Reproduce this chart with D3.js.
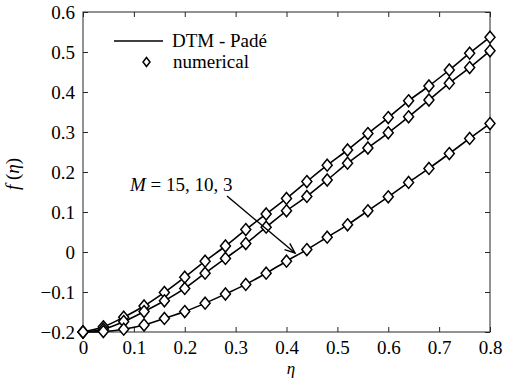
<!DOCTYPE html>
<html>
<head>
<meta charset="utf-8">
<script src="https://cdn.jsdelivr.net/npm/d3@7"></script>
</head>
<body style="margin:0;background:#fff">
<svg id="fig" width="515" height="378" style="display:block"></svg>
<script>
// Similarity variable samples
const eta = [0, 0.04, 0.08, 0.12, 0.16, 0.2, 0.24, 0.28, 0.32, 0.36, 0.4,
             0.44, 0.48, 0.52, 0.56, 0.6, 0.64, 0.68, 0.72, 0.76, 0.8];
// f(eta) for M = 15, 10, 3
const fM15 = [-0.2, -0.187, -0.163, -0.135, -0.101, -0.063, -0.023, 0.015, 0.056, 0.095, 0.134,
              0.176, 0.217, 0.255, 0.296, 0.336, 0.378, 0.415, 0.455, 0.497, 0.537];
const fM10 = [-0.2, -0.193, -0.174, -0.149, -0.122, -0.091, -0.053, -0.016, 0.021, 0.062, 0.103,
              0.139, 0.180, 0.222, 0.260, 0.298, 0.338, 0.380, 0.422, 0.461, 0.503];
const fM3  = [-0.2, -0.199, -0.193, -0.1825, -0.166, -0.149, -0.128, -0.105, -0.081, -0.053, -0.023,
              0.006, 0.037, 0.068, 0.103, 0.138, 0.174, 0.209, 0.246, 0.284, 0.321];
const seriesList = [fM15, fM10, fM3];
const xTicks = [0, 0.1, 0.2, 0.3, 0.4, 0.5, 0.6, 0.7, 0.8];
const yTicks = [-0.2, -0.1, 0, 0.1, 0.2, 0.3, 0.4, 0.5, 0.6];

const FONT = "'Liberation Serif', Tinos, 'Times New Roman', serif";
const svg = d3.select("#fig");
const margin = {left: 83, right: 25, top: 12, bottom: 46};
const W = 515, H = 378;
const x = d3.scaleLinear().domain([0, 0.8]).range([margin.left, W - margin.right]);
const y = d3.scaleLinear().domain([-0.2, 0.6]).range([H - margin.bottom, margin.top]);

const fmt = v => {
  if (Math.abs(v) < 1e-9) return "0";
  const s = d3.format(".1f")(Math.abs(v));
  return (v < 0 ? "\u2212" : "") + s;
};

const tickLen = 5;
const axisColor = "#262626";

// Box
svg.append("rect")
  .attr("x", x(0)).attr("y", y(0.6))
  .attr("width", x(0.8) - x(0)).attr("height", y(-0.2) - y(0.6))
  .attr("fill", "none").attr("stroke", axisColor).attr("stroke-width", 1);

// Axes with inward ticks on all four sides
const gx = svg.append("g").attr("transform", `translate(0,${y(-0.2)})`)
  .call(d3.axisBottom(x).tickValues(xTicks).tickSize(-tickLen).tickPadding(9).tickFormat(fmt));
const gxTop = svg.append("g").attr("transform", `translate(0,${y(0.6)})`)
  .call(d3.axisTop(x).tickValues(xTicks).tickSize(-tickLen).tickFormat(""));
const gy = svg.append("g").attr("transform", `translate(${x(0)},0)`)
  .call(d3.axisLeft(y).tickValues(yTicks).tickSize(-tickLen).tickPadding(8).tickFormat(fmt));
const gyRight = svg.append("g").attr("transform", `translate(${x(0.8)},0)`)
  .call(d3.axisRight(y).tickValues(yTicks).tickSize(-tickLen).tickFormat(""));

[gx, gxTop, gy, gyRight].forEach(g => {
  g.attr("font-family", null).attr("font-size", null);
  g.select(".domain").remove();
  g.selectAll(".tick line").attr("stroke", axisColor);
  g.selectAll(".tick text").attr("fill", "#000");
});
gx.selectAll(".tick text").attr("dy", "0.71em");

// Curves
const line = d3.line().x((d, i) => x(eta[i])).y(d => y(d)).curve(d3.curveCatmullRom.alpha(0.5));
const plot = svg.append("g");
seriesList.forEach(s => {
  plot.append("path").attr("d", line(s))
    .attr("fill", "none").attr("stroke", "#000").attr("stroke-width", 1.6);
});

// Diamond markers
const diamond = (cx, cy, hw, hh) =>
  `M${cx},${cy - hh}L${cx + hw},${cy}L${cx},${cy + hh}L${cx - hw},${cy}Z`;
seriesList.forEach(s => {
  plot.selectAll(null).data(s).enter().append("path")
    .attr("d", (d, i) => diamond(x(eta[i]), y(d), 5, 6))
    .attr("fill", "#fff").attr("stroke", "#000").attr("stroke-width", 1.5);
});

// Legend
const lg = svg.append("g");
lg.append("line").attr("x1", 114).attr("x2", 163).attr("y1", 41).attr("y2", 41)
  .attr("stroke", "#000").attr("stroke-width", 1.6);
lg.append("path").attr("d", diamond(146.5, 62, 3.5, 4.5))
  .attr("fill", "#fff").attr("stroke", "#000").attr("stroke-width", 1.5);
lg.append("text").attr("class", "legend").attr("x", 172).attr("y", 46.5).text("DTM - Padé");
lg.append("text").attr("class", "legend").attr("x", 173).attr("y", 68).text("numerical");

// Parameter annotation with arrow
const ann = svg.append("g");
const annText = ann.append("text").attr("x", 130).attr("y", 191);
annText.append("tspan").attr("font-style", "italic").text("M");
annText.append("tspan").text(" = 15, 10, 3");
const ax0 = 227, ay0 = 196, ax1 = 295, ay1 = 253;
ann.append("line").attr("x1", ax0).attr("y1", ay0).attr("x2", ax1).attr("y2", ay1)
  .attr("stroke", "#000").attr("stroke-width", 1.4);
const ang = Math.atan2(ay1 - ay0, ax1 - ax0);
const headLen = 11, spread = 0.38;
ann.append("path")
  .attr("d", `M${ax1 - headLen * Math.cos(ang - spread)},${ay1 - headLen * Math.sin(ang - spread)}L${ax1},${ay1}L${ax1 - headLen * Math.cos(ang + spread)},${ay1 - headLen * Math.sin(ang + spread)}`)
  .attr("fill", "none").attr("stroke", "#000").attr("stroke-width", 1.4);

// Axis titles
svg.append("text").attr("class", "xtitle").attr("x", 291).attr("y", 373.5).attr("text-anchor", "middle")
  .attr("font-style", "italic").text("η");
const yl = svg.append("text").attr("transform", "translate(19,174) rotate(-90)")
  .attr("text-anchor", "middle");
yl.append("tspan").attr("font-style", "italic").text("f");
yl.append("tspan").text(" (");
yl.append("tspan").attr("font-style", "italic").text("η");
yl.append("tspan").text(")");

// Shared typeface for every label
svg.selectAll("text").each(function () {
  const size = this.classList.contains("xtitle") ? 17 : 19;
  this.setAttribute("style", `font-family: ${FONT}; font-size: ${size}px;`);
});
</script>
</body>
</html>
